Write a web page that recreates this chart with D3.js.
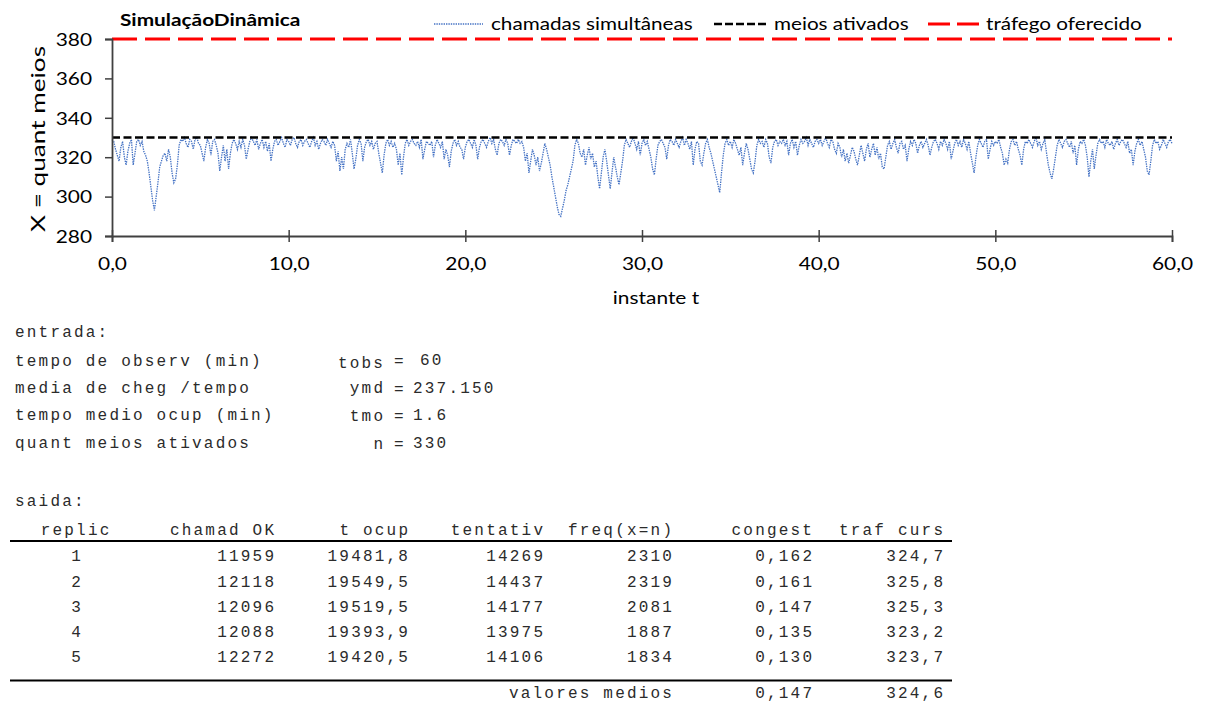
<!DOCTYPE html>
<html>
<head>
<meta charset="utf-8">
<script src="https://cdn.jsdelivr.net/npm/d3@7"></script>
<style>
  html, body { margin: 0; padding: 0; background: #fff; }
  svg { display: block; }
</style>
</head>
<body>
<svg id="chart" width="1205" height="704"></svg>
<script>
// ---------------- data ----------------
const chartTitle = "SimulaçãoDinâmica";
const legendLabels = ["chamadas simultâneas", "meios ativados", "tráfego oferecido"];
const xTicks = [0, 10, 20, 30, 40, 50, 60];
const yTicks = [280, 300, 320, 340, 360, 380];
const xLabel = "instante t";
const yLabel = "X = quant meios";

// sample spacing of the trace (minutes)
const tempoPasso = 0.1;
// chamadas simultâneas, one row per minute (t = m.0 ... m.9), last value t = 60
const chamadasSimultaneas = [
  329,328,324,321,318,325,328,320,316,323,
  327,329,316,322,328,329,326,328,323,321,
  318,312,305,298,293,300,307,315,318,321,
  322,318,324,320,312,307,309,316,326,329,
  328,330,327,325,329,328,324,329,330,327,
  326,322,318,325,329,327,321,328,329,326,
  322,313,320,326,318,324,314,322,327,329,
  327,324,328,325,329,326,319,324,328,330,
  328,326,329,324,327,329,325,328,323,327,
  318,324,328,329,326,328,330,327,325,329,
  328,326,329,330,327,325,328,329,326,328,
  329,327,325,328,330,326,328,324,327,329,
  328,326,329,327,325,328,326,318,323,313,
  320,314,324,327,325,329,322,314,319,326,
  329,327,318,325,328,329,326,328,324,327,
  328,322,317,312,321,327,329,326,328,325,
  327,324,316,322,311,320,327,329,326,328,
  329,327,326,328,325,329,319,324,328,327,
  326,328,320,326,329,327,325,328,319,324,
  321,315,323,327,329,326,328,325,324,319,
  325,328,329,327,325,329,326,319,325,328,
  329,327,325,328,330,327,329,324,321,327,
  329,328,326,329,327,321,326,329,328,327,
  329,327,328,325,318,322,312,318,324,321,
  316,320,313,317,322,327,324,320,316,310,
  305,300,295,291,290,294,298,303,306,310,
  314,318,326,329,327,322,320,324,316,321,
  325,319,322,315,318,310,304,312,320,324,
  318,311,304,312,320,315,310,306,312,318,
  326,329,327,325,328,330,327,324,328,321,
  327,329,326,328,324,320,314,311,319,326,
  328,329,327,325,319,326,329,328,326,329,
  327,325,328,330,326,329,327,324,328,316,
  324,328,327,318,316,322,327,329,325,322,
  318,314,310,306,302,312,321,327,329,326,
  328,325,329,327,324,321,325,316,322,327,
  324,319,314,312,318,326,329,327,328,325,
  329,327,320,317,325,328,329,326,328,327,
  329,326,328,321,327,329,325,328,321,326,
  329,327,328,330,326,329,327,325,328,329,
  327,329,326,328,330,327,325,329,328,324,
  322,327,325,320,324,318,322,317,321,325,
  323,319,316,321,326,322,318,324,327,320,
  324,327,321,325,319,322,315,314,320,326,
  328,324,327,329,325,322,327,328,324,326,
  318,324,328,326,329,327,322,326,328,325,
  327,329,326,321,325,328,329,327,324,328,
  326,329,327,324,328,319,323,327,329,326,
  328,325,329,327,324,328,322,317,312,320,
  326,329,327,325,328,329,319,324,328,326,
  328,327,329,325,322,316,319,317,324,328,
  329,326,328,324,321,316,324,328,327,329,
  327,325,328,330,326,328,324,327,329,322,
  316,312,309,314,320,326,329,327,325,328,
  329,327,325,328,322,326,316,324,328,327,
  329,326,320,310,318,324,314,321,327,329,
  327,328,325,329,327,326,328,324,327,329,
  326,328,329,327,325,328,322,324,316,323,
  327,329,326,328,324,320,313,311,318,326,
  329,327,328,324,326,329,327,325,328,329,
  327
];
const meiosAtivados = 330;
const trafegoOferecido = 380;

// entrada block
const entradaTitulo = "entrada:";
const entradaDescricoes = ["tempo de observ (min)", "media de cheg /tempo", "tempo medio ocup (min)", "quant meios ativados"];
const entradaSimbolos = ["tobs", "ymd", "tmo", "n"];
const entradaValores = ["60", "237.150", "1.6", "330"];

// saida table
const saidaTitulo = "saida:";
const colunas = ["replic", "chamad OK", "t ocup", "tentativ", "freq(x=n)", "congest", "traf curs"];
const replic = ["1", "2", "3", "4", "5"];
const chamadOK = ["11959", "12118", "12096", "12088", "12272"];
const tOcup = ["19481,8", "19549,5", "19519,5", "19393,9", "19420,5"];
const tentativ = ["14269", "14437", "14177", "13975", "14106"];
const freqXn = ["2310", "2319", "2081", "1887", "1834"];
const congest = ["0,162", "0,161", "0,147", "0,135", "0,130"];
const trafCurs = ["324,7", "325,8", "325,3", "323,2", "323,7"];
const mediosRotulo = "valores medios";
const mediosValores = ["0,147", "324,6"];

// ---------------- drawing ----------------
const svg = d3.select("#chart");
const sansFont = "Lato, 'Open Sans', sans-serif";
const monoFont = "'Liberation Mono', 'DejaVu Sans Mono', monospace";
const sx = 1.16; // horizontal stretch of the chart's sans text

const x = d3.scaleLinear().domain([0, 60]).range([112, 1172]);
const y = d3.scaleLinear().domain([280, 380]).range([236, 39]);

const ptLocale = d3.formatLocale({decimal: ",", thousands: ".", grouping: [3], currency: ["", ""]});
const fmt1 = ptLocale.format(".1f");

function stext(txt, xx, yy, size, opts = {}) {
  return svg.append("text")
    .attr("transform", `translate(${xx},${yy}) scale(${opts.sx || sx},1)`)
    .attr("text-anchor", opts.anchor || "start")
    .attr("font-family", sansFont)
    .attr("font-size", size)
    .attr("font-weight", opts.weight || "normal")
    .attr("fill", "#000")
    .text(txt);
}

// series line
const serie = chamadasSimultaneas.map((v, i) => ({t: i * tempoPasso, v}));
const line = d3.line().x(d => x(d.t)).y(d => y(d.v));

svg.append("path")
  .datum(serie)
  .attr("d", line)
  .attr("fill", "none")
  .attr("stroke", "#4472C4")
  .attr("stroke-width", 1.3)
  .attr("stroke-dasharray", "1.4,1");

// meios ativados
svg.append("path")
  .datum([{t: 0, v: meiosAtivados}, {t: 60, v: meiosAtivados}])
  .attr("d", line)
  .attr("fill", "none")
  .attr("stroke", "#000")
  .attr("stroke-width", 2.6)
  .attr("stroke-dasharray", "8,3.5");

// tráfego oferecido
svg.append("path")
  .datum([{t: 0, v: trafegoOferecido}, {t: 60, v: trafegoOferecido}])
  .attr("d", line)
  .attr("fill", "none")
  .attr("stroke", "#FF0000")
  .attr("stroke-width", 3.2)
  .attr("stroke-dasharray", "25,8");

// axes
const axisColor = "#404040";
const gx = svg.append("g")
  .attr("transform", `translate(0,${y(280)})`)
  .call(d3.axisBottom(x).tickValues(xTicks).tickFormat(fmt1).tickSize(6).tickPadding(15));
gx.selectAll(".tick line").attr("y1", -6);
const gy = svg.append("g")
  .attr("transform", `translate(${x(0)},0)`)
  .call(d3.axisLeft(y).tickValues(yTicks).tickFormat(d3.format("d")).tickSize(7).tickPadding(13));

[gx, gy].forEach(g => {
  g.select(".domain").attr("stroke", axisColor).attr("stroke-width", 1.8);
  g.selectAll(".tick line").attr("stroke", axisColor).attr("stroke-width", 1.5);
  g.selectAll(".tick text").attr("fill", "#000").attr("font-family", sansFont).attr("font-size", 18)
    .attr("transform", `scale(${sx},1)`);
});
gy.selectAll(".tick text").attr("dy", "0.35em").attr("x", -20 / sx);

// axis titles
stext(xLabel, 656, 304, 18, {anchor: "middle"});
svg.append("text")
  .attr("transform", "translate(45,139) rotate(-90)")
  .attr("text-anchor", "middle")
  .attr("font-family", sansFont).attr("font-size", 18.5)
  .attr("textLength", 186).attr("lengthAdjust", "spacingAndGlyphs")
  .text(yLabel);

// title
stext(chartTitle, 120, 26, 17.5, {weight: "bold", sx: 1.19});

// legend
const legendItems = [
  {x1: 434, x2: 483, tx: 491, stroke: "#4472C4", w: 1.3, dash: "1.4,1"},
  {x1: 714, x2: 768, tx: 774, stroke: "#000", w: 2.6, dash: "8,3"},
  {x1: 928, x2: 980, tx: 986, stroke: "#FF0000", w: 3.2, dash: "22,7"}
];
legendItems.forEach((it, i) => {
  svg.append("line")
    .attr("x1", it.x1).attr("x2", it.x2).attr("y1", 24).attr("y2", 24)
    .attr("stroke", it.stroke).attr("stroke-width", it.w).attr("stroke-dasharray", it.dash);
  stext(legendLabels[i], it.tx, 30, 18, {sx: 1.15});
});

// ---------------- monospace texts ----------------
const monoSize = 16, monoSpacing = 2.2, monoColor = "#2b2b2b";
function mono(txt, xx, yy, anchor) {
  return svg.append("text")
    .attr("x", anchor === "end" ? xx + monoSpacing : (anchor === "middle" ? xx + monoSpacing / 2 : xx))
    .attr("y", yy)
    .attr("font-family", monoFont).attr("font-size", monoSize)
    .attr("letter-spacing", monoSpacing)
    .attr("fill", monoColor)
    .attr("text-anchor", anchor || "start")
    .text(txt);
}

mono(entradaTitulo, 15, 337);
const entradaY = [366, 393, 420, 448];
const simboloY = [368, 393, 421, 449];
const valorY = [365, 393, 420, 448];
const valorX = [420, 413, 413, 413];
entradaDescricoes.forEach((d, i) => {
  mono(d, 15, entradaY[i]);
  mono(entradaSimbolos[i], 383, simboloY[i], "end");
  mono("=", 394, valorY[i] + 1);
  mono(entradaValores[i], valorX[i], valorY[i]);
});

mono(saidaTitulo, 15, 506);

// table
const colEnds = [null, 274, 408, 543, 672, 812, 943];
const headerY = 535;
colunas.forEach((c, j) => {
  if (j === 0) mono(c, 75, headerY, "middle");
  else mono(c, colEnds[j], headerY, "end");
});
svg.append("line").attr("x1", 10).attr("x2", 952).attr("y1", 541).attr("y2", 541)
  .attr("stroke", "#000").attr("stroke-width", 2);

const rowY = [561, 586.5, 612, 637, 662];
const colData = [replic, chamadOK, tOcup, tentativ, freqXn, congest, trafCurs];
rowY.forEach((ry, i) => {
  colData.forEach((col, j) => {
    if (j === 0) mono(col[i], 76, ry, "middle");
    else mono(col[i], colEnds[j], ry, "end");
  });
});
svg.append("line").attr("x1", 10).attr("x2", 952).attr("y1", 680.5).attr("y2", 680.5)
  .attr("stroke", "#000").attr("stroke-width", 2);
mono(mediosRotulo, colEnds[4], 698, "end");
mono(mediosValores[0], colEnds[5], 698, "end");
mono(mediosValores[1], colEnds[6], 698, "end");
</script>
</body>
</html>
